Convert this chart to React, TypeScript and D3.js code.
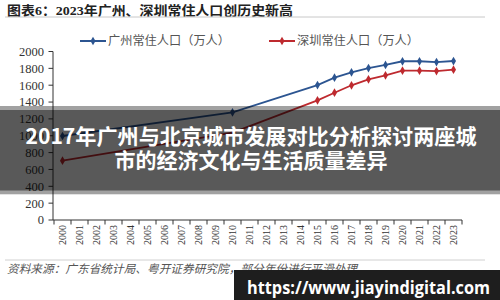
import React from "react";
import * as d3 from "d3";

const categories = [
  "2000", "2001", "2002", "2003", "2004", "2005", "2006", "2007", "2008", "2009", "2010", "2011",
  "2012", "2013", "2014", "2015", "2016", "2017", "2018", "2019", "2020", "2021", "2022", "2023",
];
const dataYears = ["2000", "2010", "2015", "2016", "2017", "2018", "2019", "2020", "2021", "2022", "2023"];
const guangzhou = [997, 1278, 1602, 1689, 1753, 1804, 1840, 1884, 1884, 1875, 1887];
const shenzhen = [704, 1037, 1420, 1511, 1599, 1670, 1717, 1772, 1772, 1768, 1784];
const yTicks = [0, 200, 400, 600, 800, 1000, 1200, 1400, 1600, 1800, 2000];
const seriesNames = ["广州常住人口（万人）", "深圳常住人口（万人）"];
const title = "图表6：2023年广州、深圳常住人口创历史新高";
const source = "资料来源：广东省统计局、粤开证券研究院，部分年份进行平滑处理";
const overlayLines = ["2017年广州与北京城市发展对比分析探讨两座城", "市的经济文化与生活质量差异"];
const watermark = "https://www.jiayindigital.com";

const BLUE = "#2c5591";
const RED = "#be2a2f";
const SERIF = "'Liberation Serif', 'DejaVu Serif', 'Noto Sans CJK SC', serif";
const CJK = "'Noto Sans CJK SC', sans-serif";

export default function App() {
  const x = d3.scaleBand<string>().domain(categories).range([54, 462]).padding(0);
  const y = d3.scaleLinear().domain([0, 2000]).range([220, 51.5]);
  const bw = x.bandwidth();
  const cx = (c: string) => (x(c) as number) + bw / 2;
  const diamond = d3.symbol().type(d3.symbolDiamond).size(22)() as string;

  const series = [
    { name: seriesNames[0], values: guangzhou, color: BLUE, lx: 80, tx: 108 },
    { name: seriesNames[1], values: shenzhen, color: RED, lx: 269, tx: 297 },
  ];

  const line = d3
    .line<number>()
    .x((_, i) => cx(dataYears[i]))
    .y((v) => y(v));

  const boundaries = categories.map((c) => x(c) as number).concat([x.range()[1]]);

  return (
    <svg
      width={500}
      height={300}
      style={{ position: "absolute", left: 0, top: 0, background: "#fff" }}
    >
      <rect x={0} y={0} width={500} height={300} fill="#fff" />
      {/* Title */}
      <text x={7} y={15} fontFamily={SERIF} fontWeight="bold" fontSize={13} fill="#222" textLength={286} lengthAdjust="spacingAndGlyphs">
        {title}
      </text>
      <line x1={5} x2={485} y1={17} y2={17} stroke="#c8c8c8" strokeWidth={1} />

      {/* Legend */}
      {series.map((s) => (
        <g key={s.name}>
          <line x1={s.lx} x2={s.lx + 26} y1={41} y2={41} stroke={s.color} strokeWidth={2} />
          <path d={diamond} transform={`translate(${s.lx + 13},41)`} fill={s.color} />
          <text x={s.tx} y={45} fontFamily={SERIF} fontSize={12} fill="#555" textLength={122} lengthAdjust="spacingAndGlyphs">
            {s.name}
          </text>
        </g>
      ))}

      {/* Y axis */}
      <line x1={53} x2={53} y1={y(2000)} y2={220} stroke="#333" strokeWidth={1} />
      {yTicks.map((t) => (
        <g key={t}>
          <line x1={48.5} x2={53} y1={y(t)} y2={y(t)} stroke="#333" strokeWidth={1} />
          <text x={44} y={y(t)} dy="0.35em" textAnchor="end" fontFamily={SERIF} fontSize={12.5} fill="#333">
            {t}
          </text>
        </g>
      ))}

      {/* X axis */}
      <line x1={53} x2={462} y1={220} y2={220} stroke="#333" strokeWidth={1} />
      {boundaries.map((b, i) => (
        <line key={i} x1={b} x2={b} y1={220} y2={224.5} stroke="#333" strokeWidth={1} />
      ))}
      {categories.map((c) => (
        <text
          key={c}
          transform={`translate(${cx(c)},225) rotate(-90)`}
          textAnchor="end"
          dy="0.35em"
          fontFamily={SERIF}
          fontSize={10}
          fill="#333"
        >
          {c}
        </text>
      ))}

      {/* Lines */}
      {series.map((s) => (
        <g key={s.name + "l"}>
          <path d={line(s.values) as string} fill="none" stroke={s.color} strokeWidth={1.8} />
          {s.values.map((v, i) => (
            <path key={i} d={diamond} transform={`translate(${cx(dataYears[i])},${y(v)})`} fill={s.color} />
          ))}
        </g>
      ))}

      {/* Source */}
      <line x1={5} x2={485} y1={260} y2={260} stroke="#d0d0d0" strokeWidth={1} />
      <text x={7} y={273} fontFamily={SERIF} fontStyle="italic" fontSize={11.5} fill="#555" textLength={350} lengthAdjust="spacingAndGlyphs">
        {source}
      </text>

      {/* Overlay band */}
      <rect x={0} y={106} width={500} height={4} fill="rgba(0,0,0,0.37)" />
      <rect x={0} y={110} width={500} height={80.7} fill="rgba(0,0,0,0.65)" />
      <rect x={0} y={190.7} width={500} height={3.6} fill="rgba(0,0,0,0.37)" />
      <text x={251} y={144} textAnchor="middle" fontFamily={CJK} fontWeight="bold" fontSize={21} fill="#fff" textLength={451} lengthAdjust="spacingAndGlyphs">
        {overlayLines[0]}
      </text>
      <text x={251} y={168} textAnchor="middle" fontFamily={CJK} fontWeight="bold" fontSize={21} fill="#fff">
        {overlayLines[1]}
      </text>

      {/* Watermark */}
      <rect x={234} y={270} width={266} height={30} fill="#1e1e1e" />
      <text x={247} y={294} fontFamily="'Open Sans', 'DejaVu Sans', sans-serif" fontWeight="bold" fontSize={17} fill="#fff" textLength={243} lengthAdjust="spacingAndGlyphs">
        {watermark}
      </text>
    </svg>
  );
}
